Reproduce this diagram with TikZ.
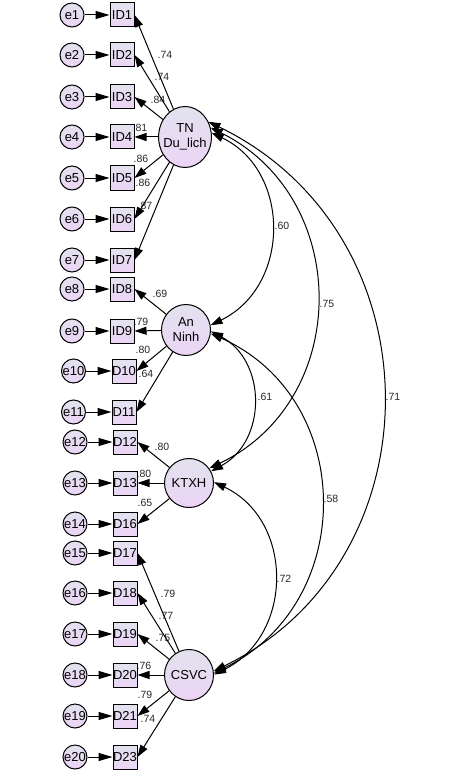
\documentclass[tikz,border=0pt]{standalone}
\usepackage{fontspec}
\setmainfont{Liberation Sans}
\usetikzlibrary{arrows.meta,shapes.geometric}
\definecolor{topc}{RGB}{226,226,238}
\definecolor{botc}{RGB}{236,212,246}
\definecolor{lblc}{RGB}{40,40,40}
\tikzset{
 nodefont/.style={font=\fontsize{13}{15}\selectfont},
 obs/.style={draw, line width=1pt, minimum width=24pt, minimum height=24pt, inner sep=0pt, top color=topc, bottom color=botc, nodefont},
 errc/.style={circle, draw, line width=1pt, minimum size=24pt, inner sep=0pt, top color=topc, bottom color=botc, nodefont},
 lat/.style={ellipse, draw, line width=1pt, inner xsep=-3pt, inner ysep=0pt, top color=topc, bottom color=botc, align=center, nodefont},
 lbl/.style={font=\fontsize{10.5}{12}\selectfont, text=lblc, inner sep=0pt},
 load/.style={line width=1pt, -{Triangle[length=12pt,width=8pt]}},
 errarr/.style={line width=1pt, -{Triangle[length=14pt,width=8pt]}},
 cov/.style={line width=1pt, {Triangle[length=12pt,width=8pt]}-{Triangle[length=12pt,width=8pt]}},
}
\begin{document}
\begin{tikzpicture}[x=1pt,y=-1pt]
\useasboundingbox (0,0) rectangle (459,770);
% loading labels (drawn first, partly covered by boxes)
\node[lbl] (l1) at (165,55) {.74};
\node[lbl] (l2) at (162,77) {.74};
\node[lbl] (l3) at (158,100) {.84};
\node[lbl] (l4) at (140,128) {.81};
\node[lbl] (l5) at (141,159) {.86};
\node[lbl] (l6) at (143,183) {.86};
\node[lbl] (l7) at (145,206) {.87};
\node[lbl] (l8) at (160,294) {.69};
\node[lbl] (l9) at (141,322) {.79};
\node[lbl] (l10) at (143,350) {.80};
\node[lbl] (l11) at (146,374) {.64};
\node[lbl] (l12) at (162,447) {.80};
\node[lbl] (l13) at (144,474) {.80};
\node[lbl] (l14) at (145,503) {.65};
\node[lbl] (l15) at (168,594) {.79};
\node[lbl] (l16) at (166,616) {.77};
\node[lbl] (l17) at (163,638) {.75};
\node[lbl] (l18) at (144,666) {.76};
\node[lbl] (l19) at (145,695) {.79};
\node[lbl] (l20) at (148,719) {.74};
% covariance labels
\node[lbl] (c1) at (282,226) {.60};
\node[lbl] (c2) at (327,304) {.75};
\node[lbl] (c3) at (393,397) {.71};
\node[lbl] (c4) at (265,397) {.61};
\node[lbl] (c5) at (331,499) {.58};
\node[lbl] (c6) at (284,579) {.72};
% latent variables
\node[lat, minimum width=52pt, minimum height=61pt] (TN) at (185,137) {TN\\Du\_lich};
\node[lat, minimum width=49pt, minimum height=51pt] (AN) at (186,330) {An\\Ninh};
\node[lat, minimum width=49pt, minimum height=49pt] (KT) at (189,483) {KTXH};
\node[lat, minimum width=49pt, minimum height=51pt] (CS) at (189,675) {CSVC};
% observed variables and errors
\foreach \i/\lab/\y/\bx/\ex in {1/ID1/15/122/72, 2/ID2/55/122/72, 3/ID3/97/122/72, 4/ID4/137/122/72, 5/ID5/178/122/72, 6/ID6/219/122/72, 7/ID7/260/122/72, 8/ID8/289/122/72, 9/ID9/331/122/72, 10/D10/371/124/73.5, 11/D11/412/124/73.5, 12/D12/442/125/75, 13/D13/483/125/75, 14/D16/524/125/75, 15/D17/553/125/75, 16/D18/593/125/75, 17/D19/634/125/75, 18/D20/675/125/75, 19/D21/716/125/75, 20/D23/757/125/75}{
  \node[obs] (o\i) at (\bx,\y) {\lab};
  \node[errc] (e\i) at (\ex,\y) {e\i};
  \draw[errarr] (e\i) -- (o\i);
}
% loadings
\foreach \i in {1,...,7}{\draw[load] (TN) -- (o\i.east);}
\foreach \i in {8,...,11}{\draw[load] (AN) -- (o\i.east);}
\foreach \i in {12,...,14}{\draw[load] (KT) -- (o\i.east);}
\foreach \i in {15,...,20}{\draw[load] (CS) -- (o\i.east);}
% covariances
\draw[cov] (TN.9) .. controls (291,171) and (291,286) .. (AN.11);
\draw[cov] (TN.20) .. controls (352,198) and (352,400) .. (KT.36);
\draw[cov] (TN.33) .. controls (440,234) and (440,561) .. (CS.9);
\draw[cov] (AN.-3) .. controls (267,361) and (267,441) .. (KT.28);
\draw[cov] (AN.-8) .. controls (357,399) and (357,604) .. (CS.5);
\draw[cov] (KT.2) .. controls (294,520) and (294,635) .. (CS.1);
\end{tikzpicture}
\end{document}
